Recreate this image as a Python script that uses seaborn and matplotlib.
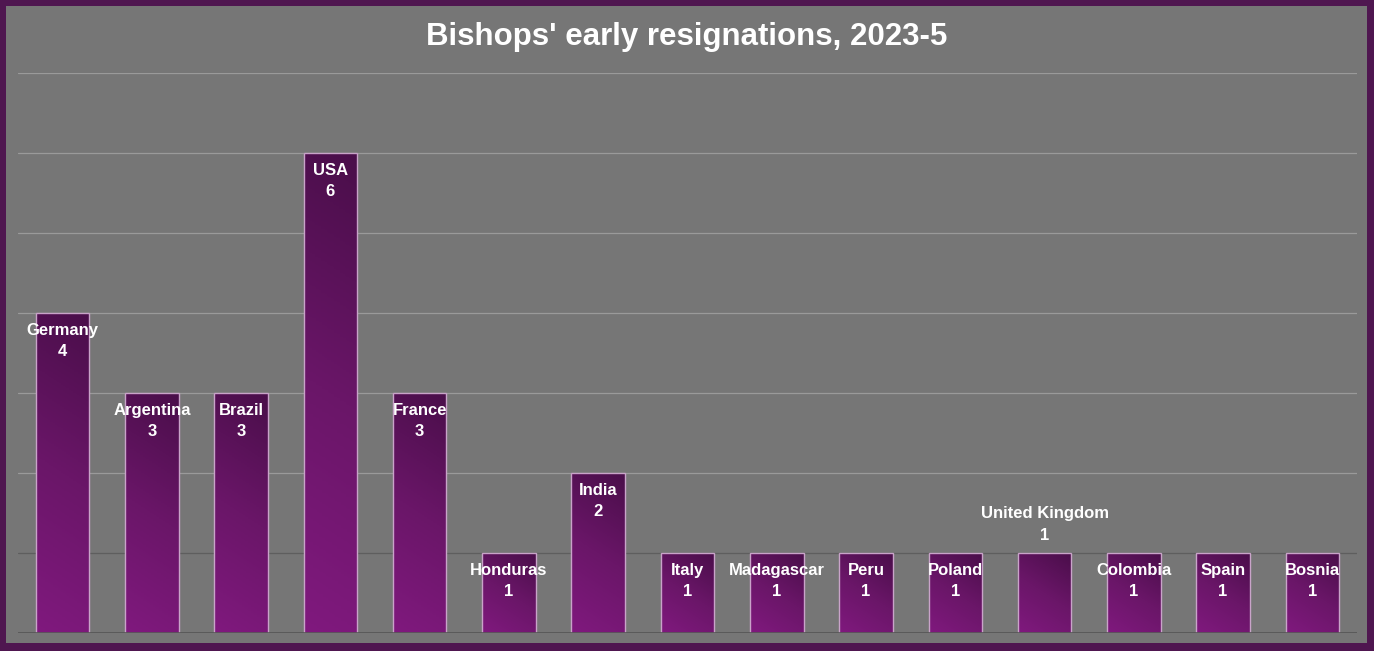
import numpy as np
import pandas as pd
import seaborn as sns
import matplotlib.pyplot as plt
from matplotlib.patches import Rectangle
from matplotlib.colors import LinearSegmentedColormap

# data
countries = ["Germany", "Argentina", "Brazil", "USA", "France", "Honduras", "India",
             "Italy", "Madagascar", "Peru", "Poland", "United Kingdom", "Colombia",
             "Spain", "Bosnia"]
resignations = [4, 3, 3, 6, 3, 1, 2, 1, 1, 1, 1, 1, 1, 1, 1]

df = pd.DataFrame({"country": countries, "n": resignations})

sns.set_style("white")
plt.rcParams["font.family"] = ["Liberation Sans Narrow", "Liberation Sans", "DejaVu Sans"]

W, H = 1374, 651
fig = plt.figure(figsize=(W / 100, H / 100), dpi=100)
fig.patch.set_facecolor("#4f1650")
fig.add_artist(Rectangle((6 / W, 8 / H), (1367 - 6) / W, (643 - 6) / H,
                         transform=fig.transFigure, facecolor="#767676",
                         edgecolor="none", zorder=0))

ax = fig.add_axes([18 / W, 18 / H, (1357 - 18) / W, 560 / H])
ax.set_facecolor("#767676")

sns.barplot(data=df, x="country", y="n", width=0.6, color="#6a1a6a",
            edgecolor="#c9a3c9", linewidth=1.0, ax=ax, zorder=3)

ax.set_xlim(-0.5, len(countries) - 0.5)
ax.set_ylim(0, 7)

# gradient fill: dark top-right to lighter purple bottom-left
cmap = LinearSegmentedColormap.from_list("purp", ["#80197e", "#6a1668", "#4a0e4a"])
gx, gy = np.meshgrid(np.linspace(0, 1, 60), np.linspace(0, 1, 120))
for bar in ax.patches:
    x0, y0 = bar.get_x(), bar.get_y()
    w, h = bar.get_width(), bar.get_height()
    grad = 0.8 * gy + 0.35 * gx * (1.0 / max(h, 1))
    grad = grad / grad.max()
    im = ax.imshow(grad, cmap=cmap, origin="lower", aspect="auto",
                   extent=(x0, x0 + w, y0, y0 + h), zorder=3.5)
    im.set_clip_path(bar)
    bar.set_facecolor("none")
    bar.set_zorder(4)

# grid
for yv in range(1, 8):
    ax.axhline(yv, color="#9a9a9a" if yv > 1 else "#5e5e5e", lw=0.9, zorder=1)
ax.axhline(0, color="#555555", lw=1.2, zorder=5)

for s in ax.spines.values():
    s.set_visible(False)
ax.set_xticks([])
ax.set_yticks([])
ax.set_xlabel("")
ax.set_ylabel("")

# labels inside the bar tops (United Kingdom sits above its bar)
for i, (c, v) in enumerate(zip(countries, resignations)):
    if c == "United Kingdom":
        ax.text(i, v + 0.13, f"{c}\n{v}", ha="center", va="bottom", color="white",
                fontsize=12, fontweight="bold", linespacing=1.55, zorder=6)
    else:
        ax.text(i, v - 0.12, f"{c}\n{v}", ha="center", va="top", color="white",
                fontsize=12, fontweight="bold", linespacing=1.55, zorder=6)

fig.text(0.5, 1 - 37 / H, "Bishops' early resignations, 2023-5", ha="center",
         va="center", color="white", fontsize=22.5, fontweight="bold")

fig.savefig("out.png", dpi=100, facecolor=fig.get_facecolor())
